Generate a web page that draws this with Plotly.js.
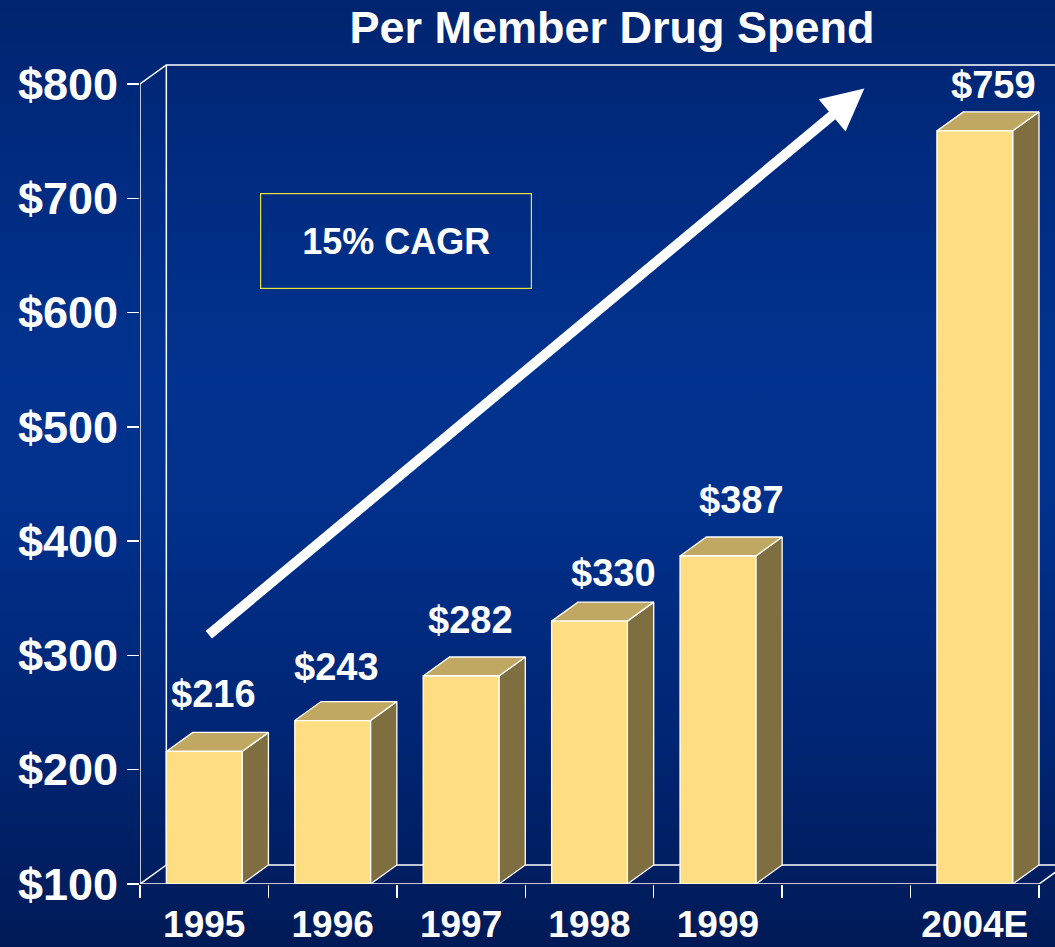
<!DOCTYPE html>
<html>
<head>
<meta charset="utf-8">
<script src="https://cdn.plot.ly/plotly-3.0.1.min.js"></script>
<style>
  html, body { margin: 0; padding: 0; }
  body {
    width: 1055px; height: 947px; overflow: hidden;
    background: linear-gradient(to bottom, #00246f 0%, #002b80 18%, #00338f 40%, #00308a 55%, #002573 78%, #001a56 100%);
  }
  #chart { width: 1055px; height: 947px; }
</style>
</head>
<body>
<div id="chart"></div>
<script>
// ---- data ----
const categories = ['1995', '1996', '1997', '1998', '1999', '', '2004E'];
const spend      = [216, 243, 282, 330, 387, null, 759];
const yTickValues = [100, 200, 300, 400, 500, 600, 700, 800];
const chartTitle = 'Per Member Drug Spend';
const cagrText = '15% CAGR';
// arrow drawn from (slot, $) to (slot, $)
const arrowFrom = [0.024, 317];
const arrowTo   = [5.14, 796];
// small hand-placement nudges of the value labels (px)
const labelNudgeX = [9, 4, 9, 24, 24, 0, 19];
const labelNudgeY = [57, 54, 56, 48, 56, 0, 46];

// ---- geometry / style ----
const yBase = 100, yTop = 800;
const half = 0.295;          // half bar width in slots
const dX = 0.205;            // 3-D depth in slots
const pxPerUnit = 800 / 700; // y pixels per $
const dY = 19 / pxPerUnit;   // 3-D depth in $
const pxPerSlot = 899 / 7;
const mL = 140, mR = 0, mT = 60, mB = 63, W = 1055, H = 947;
const xMax = -0.5 + (W - mL - mR) / pxPerSlot;
const yMax = yBase + (H - mB - mT) / pxPerUnit;
const lastEdge = categories.length - 0.5;

const FONT = 'Liberation Sans, Arial, Helvetica, sans-serif';
const frontC = '#FFDD82', topC = '#C1A862', sideC = '#7F6E40';

const fx = [], fy = [], tx = [], ty = [], sx = [], sy = [];
categories.forEach((c, i) => {
  const v = spend[i];
  if (v === null) return;
  const l = i - half, r = i + half;
  fx.push(l, r, r, l, l, null); fy.push(yBase, yBase, v, v, yBase, null);
  tx.push(l, r, r + dX, l + dX, l, null); ty.push(v, v, v + dY, v + dY, v, null);
  sx.push(r, r + dX, r + dX, r, r, null); sy.push(yBase, yBase + dY, v + dY, v, yBase, null);
});

const face = (x, y, color) => ({
  x, y, type: 'scatter', mode: 'lines', fill: 'toself', fillcolor: color,
  line: { color: '#ffffff', width: 1.3 }, hoverinfo: 'skip', showlegend: false
});

// wall + floor outlines
const L0 = -0.5;
const wx = [L0, L0, null, L0, L0 + dX, lastEdge + dX + 1, null, L0 + dX, L0 + dX, null,
            L0, L0 + dX, null, L0 + dX, lastEdge + dX + 1, null, L0, lastEdge, null, lastEdge, lastEdge + dX];
const wy = [yBase, yTop, null, yTop, yTop + dY, yTop + dY, null, yTop + dY, yBase + dY, null,
            yBase, yBase + dY, null, yBase + dY, yBase + dY, null, yBase, yBase, null, yBase, yBase + dY];

const traces = [
  { x: wx, y: wy, type: 'scatter', mode: 'lines', line: { color: '#ffffff', width: 1.5 },
    hoverinfo: 'skip', showlegend: false, connectgaps: false },
  face(sx, sy, sideC),
  face(tx, ty, topC),
  face(fx, fy, frontC),
  { x: [0], y: [yBase], xaxis: 'x2', type: 'scatter', mode: 'markers',
    marker: { opacity: 0 }, hoverinfo: 'skip', showlegend: false }
];

const annotations = [];
categories.forEach((c, i) => {
  const v = spend[i];
  if (v === null) return;
  annotations.push({
    x: i, y: v, xref: 'x', yref: 'y', text: '$' + v, showarrow: false,
    xanchor: 'center', yanchor: 'middle',
    xshift: labelNudgeX[i], yshift: labelNudgeY[i],
    font: { family: FONT, size: 38, color: '#ffffff', weight: 'bold' }
  });
});
annotations.push({
  x: arrowTo[0], y: arrowTo[1], ax: arrowFrom[0], ay: arrowFrom[1],
  xref: 'x', yref: 'y', axref: 'x', ayref: 'y', text: '',
  showarrow: true, arrowhead: 2, arrowsize: 0.84, arrowwidth: 10, arrowcolor: '#ffffff',
  standoff: 0, startstandoff: 0
});
annotations.push({
  x: 0.2801, y: (H - mB - 241.3) / (H - mB - mT), xref: 'paper', yref: 'paper',
  text: cagrText, showarrow: false, xanchor: 'center', yanchor: 'middle',
  width: 270, height: 94, borderpad: 0, borderwidth: 1.2, bordercolor: '#e6e23a',
  font: { family: FONT, size: 36, color: '#ffffff', weight: 'bold' }
});

const layout = {
  width: W, height: H,
  margin: { l: mL, r: mR, t: mT, b: mB, pad: 0 },
  paper_bgcolor: 'rgba(0,0,0,0)', plot_bgcolor: 'rgba(0,0,0,0)',
  showlegend: false,
  title: {
    text: chartTitle, xref: 'container', yref: 'container',
    x: 612 / W, xanchor: 'center', y: 1 - 27 / H, yanchor: 'middle',
    font: { family: FONT, size: 45, color: '#ffffff', weight: 'bold' }
  },
  xaxis: {
    range: [-0.5, xMax], showgrid: false, zeroline: false, showline: false,
    tickmode: 'array', tickvals: categories.map((c, i) => i - 0.5).concat([lastEdge]),
    ticks: 'outside', ticklen: 13, tickwidth: 1.5, tickcolor: '#ffffff',
    showticklabels: false, fixedrange: true
  },
  xaxis2: {
    overlaying: 'x', side: 'bottom', range: [-0.5, xMax],
    showgrid: false, zeroline: false, showline: false,
    tickmode: 'array', tickvals: categories.map((c, i) => i), ticktext: categories,
    ticks: '', ticklabelstandoff: 15,
    tickfont: { family: FONT, size: 37, color: '#ffffff', weight: 'bold' }, fixedrange: true
  },
  yaxis: {
    range: [yBase, yMax], showgrid: false, zeroline: false, showline: false,
    tickmode: 'array', tickvals: yTickValues, ticktext: yTickValues.map(v => '$' + v),
    ticks: 'outside', ticklen: 12, tickwidth: 1.5, tickcolor: '#ffffff',
    ticklabelstandoff: 0,
    tickfont: { family: FONT, size: 45, color: '#ffffff', weight: 'bold' }, fixedrange: true
  },
  annotations
};

Plotly.newPlot('chart', traces, layout, { displayModeBar: false, staticPlot: true });
</script>
</body>
</html>
